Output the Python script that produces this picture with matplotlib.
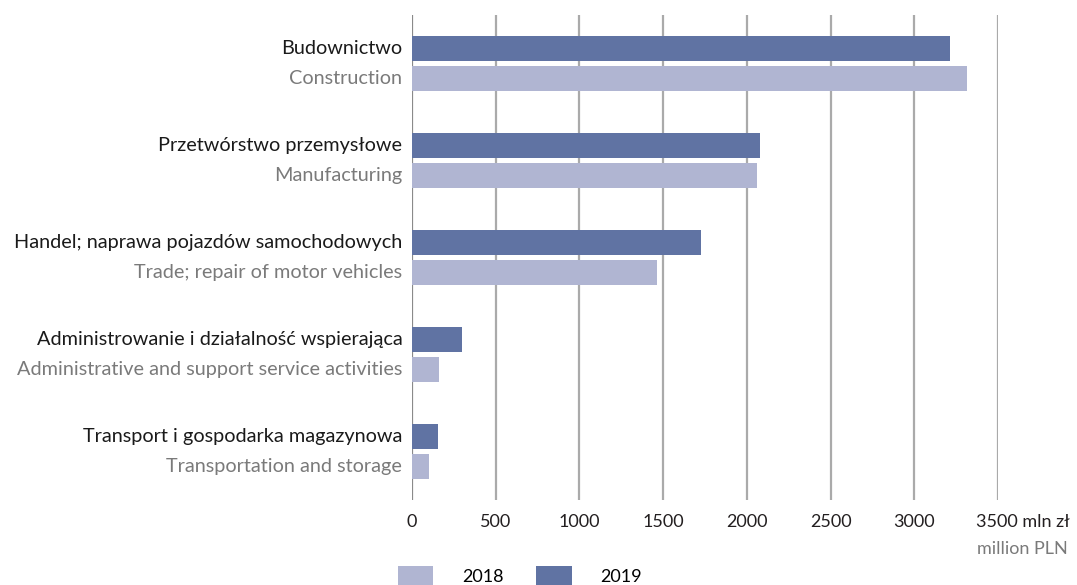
import matplotlib.pyplot as plt
import matplotlib.transforms as mtransforms
import numpy as np

plt.rcParams['font.family'] = ['Lato', 'DejaVu Sans']

# data
labels_pl = ['Budownictwo', 'Przetwórstwo przemysłowe',
             'Handel; naprawa pojazdów samochodowych',
             'Administrowanie i działalność wspierająca',
             'Transport i gospodarka magazynowa']
labels_en = ['Construction', 'Manufacturing', 'Trade; repair of motor vehicles',
             'Administrative and support service activities',
             'Transportation and storage']
values_2019 = [3215, 2078, 1727, 297, 154]
values_2018 = [3316, 2060, 1464, 160, 100]
ticks = [0, 500, 1000, 1500, 2000, 2500, 3000, 3500]

c2019 = '#6073a3'
c2018 = '#b0b5d2'

fig = plt.figure(figsize=(10.77, 5.85), dpi=100)
ax = fig.add_axes([412 / 1077, 85 / 585, 586 / 1077, 485 / 585])

y = np.arange(len(labels_pl))
h = 0.26
off = 0.155
ax.barh(y - off, values_2019, height=h, color=c2019, label='2019', zorder=3)
ax.barh(y + off, values_2018, height=h, color=c2018, label='2018', zorder=3)

ax.set_xlim(0, 3500)
ax.set_ylim(4.5, -0.5)
ax.set_xticks(ticks)
ax.set_xticklabels([str(t) for t in ticks[:-1]] + [''])
ax.tick_params(axis='x', length=0, pad=10, labelsize=13, labelcolor='#231f20')
ax.set_yticks([])
for s in ax.spines.values():
    s.set_visible(False)
for t in ticks:
    ax.axvline(t, color='#8a8a8a' if t == 0 else '#aaaaaa', lw=1.6, zorder=1)

# category labels
fs = 14.3
trans = mtransforms.blended_transform_factory(ax.transAxes, ax.transData)
for i in range(len(labels_pl)):
    ax.annotate(labels_pl[i], xy=(0, y[i] - off), xycoords=trans,
                xytext=(-7, 0), textcoords='offset points',
                ha='right', va='center', fontsize=fs, color='#1a1a1a')
    ax.annotate(labels_en[i], xy=(0, y[i] + off), xycoords=trans,
                xytext=(-7, 0), textcoords='offset points',
                ha='right', va='center', fontsize=fs, color='#7a7a7a')

# unit label
xtrans = mtransforms.blended_transform_factory(ax.transData, ax.transAxes)
ax.annotate('3500 mln zł', xy=(3500, 0), xycoords=xtrans,
            xytext=(-16, -16), textcoords='offset points',
            ha='left', va='center', fontsize=13, color='#231f20')
ax.annotate('million PLN', xy=(3500, 0), xycoords=xtrans,
            xytext=(-15, -35), textcoords='offset points',
            ha='left', va='center', fontsize=13, color='#7a7a7a')

# legend
handles, lbls = ax.get_legend_handles_labels()
fig.legend(handles[::-1], lbls[::-1], loc='center left',
           bbox_to_anchor=(382 / 1077, 9 / 585), ncol=2, frameon=False,
           fontsize=13, handlelength=1.95, handleheight=1.3,
           columnspacing=1.8, handletextpad=1.6)

fig.savefig('out.png', dpi=100)
